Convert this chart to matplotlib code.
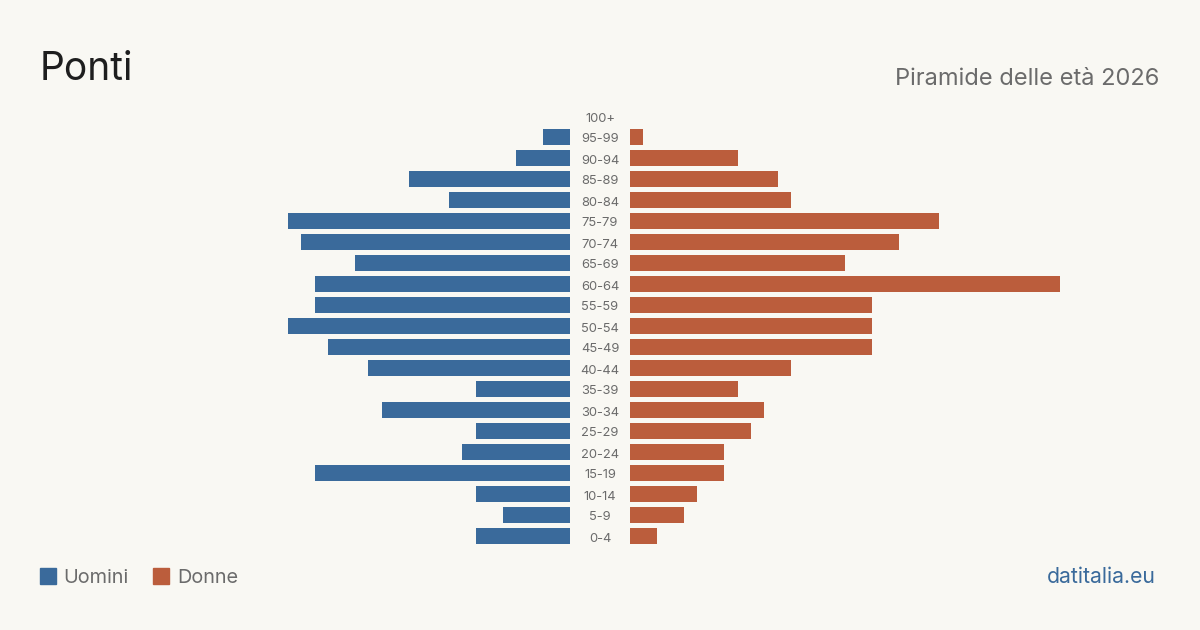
import numpy as np
import matplotlib
matplotlib.use("Agg")
import matplotlib.pyplot as plt
from matplotlib.transforms import blended_transform_factory, offset_copy
from matplotlib.patches import Rectangle

plt.rcParams['font.family'] = ['Inter', 'DejaVu Sans']

# dati (dal basso verso l'alto)
classi = ["0-4", "5-9", "10-14", "15-19", "20-24", "25-29", "30-34", "35-39",
          "40-44", "45-49", "50-54", "55-59", "60-64", "65-69", "70-74",
          "75-79", "80-84", "85-89", "90-94", "95-99", "100+"]
uomini = [7, 5, 7, 19, 8, 7, 14, 7, 15, 18, 21, 19, 19, 16, 20, 21, 9, 12, 4, 2, 0]
donne = [2, 4, 5, 7, 7, 9, 10, 8, 12, 18, 18, 18, 32, 16, 20, 23, 12, 11, 8, 1, 0]

BLU = "#3a6a9b"
ARANCIO = "#bb5d3c"
SFONDO = "#f9f8f3"
GRIGIO = "#6b6b6b"

W, H = 1200, 630
fig = plt.figure(figsize=(12, 6.3), dpi=100, facecolor=SFONDO)

scala = 13.44  # pixel per unita
y_top, y_bot = 105.5, 546.5
ax_l = fig.add_axes([100 / W, 1 - y_bot / H, 470 / W, (y_bot - y_top) / H])
ax_r = fig.add_axes([630 / W, 1 - y_bot / H, 470 / W, (y_bot - y_top) / H])

y = np.arange(len(classi))
ax_l.barh(y, uomini, height=0.8, color=BLU)
ax_r.barh(y, donne, height=0.8, color=ARANCIO)

for ax in (ax_l, ax_r):
    ax.set_ylim(-0.5, len(classi) - 0.5)
    ax.set_xlim(0, 470 / scala)
    ax.axis("off")
    ax.set_facecolor("none")
ax_l.invert_xaxis()

tr = blended_transform_factory(fig.transFigure, ax_l.transData)
tr = offset_copy(tr, fig=fig, y=-5.5, units="dots")
for i, c in enumerate(classi):
    fig.text(600 / W, i, c, transform=tr, ha="center", va="baseline",
             fontsize=9.3, color=GRIGIO)

fig.text(40 / W, 1 - 80 / H, "Ponti", fontsize=28, color="#1e1e1e",
         ha="left", va="baseline")
fig.text(1159 / W, 1 - 85 / H, "Piramide delle età 2026", fontsize=17,
         color=GRIGIO, ha="right", va="baseline")

# legenda
fig.patches.append(Rectangle((40 / W, 1 - 584 / H), 16 / W, 16 / H,
                             transform=fig.transFigure, color=BLU))
fig.text(63 / W, 1 - 583 / H, "Uomini", fontsize=14.3, color=GRIGIO,
         ha="left", va="baseline")
fig.patches.append(Rectangle((153 / W, 1 - 584 / H), 16 / W, 16 / H,
                             transform=fig.transFigure, color=ARANCIO))
fig.text(177 / W, 1 - 583 / H, "Donne", fontsize=14.3, color=GRIGIO,
         ha="left", va="baseline")

fig.text(1156 / W, 1 - 583 / H, "datitalia.eu", fontsize=15.3, color=BLU,
         ha="right", va="baseline")

fig.savefig("out.png", dpi=100, facecolor=SFONDO)
